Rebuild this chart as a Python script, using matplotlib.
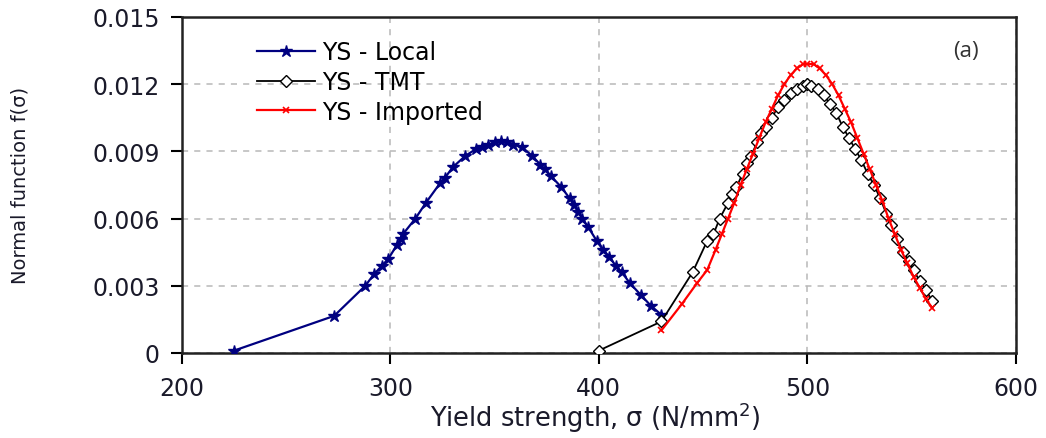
import numpy as np
import matplotlib
matplotlib.use("Agg")
import matplotlib.pyplot as plt

# values
local_x = [225, 273, 288, 292, 296, 299, 303, 305, 306, 312, 317, 324, 326, 330,
           336, 341, 344, 347, 350, 353, 356, 359, 363, 368, 372, 374, 377, 382,
           386, 388, 390, 392, 395, 399, 402, 405, 408, 411, 415, 420, 425, 430]
local_y = [0.0001, 0.00165, 0.0030, 0.0035, 0.0039, 0.0042, 0.0048, 0.0051, 0.0053,
           0.0060, 0.0067, 0.0076, 0.0078, 0.0083, 0.0088, 0.0091, 0.0092, 0.0093,
           0.0094, 0.00945, 0.0094, 0.0093, 0.0092, 0.0088, 0.0084, 0.0082, 0.0079,
           0.0074, 0.0069, 0.0066, 0.0063, 0.0060, 0.0056, 0.0050, 0.0046, 0.0043,
           0.0039, 0.0036, 0.0031, 0.0026, 0.0021, 0.0017]

tmt_x = [400, 430, 445, 452, 455, 458, 462, 464, 466, 469, 471, 473, 476, 478, 480,
         483, 486, 489, 492, 495, 498, 500, 502, 505, 508, 511, 514, 517, 520, 523,
         526, 529, 532, 535, 538, 540, 543, 546, 549, 551, 554, 557, 560]
tmt_y = [0.0001, 0.0014, 0.0036, 0.0050, 0.0053, 0.0060, 0.0067, 0.0071, 0.0074,
         0.0080, 0.0085, 0.0088, 0.0094, 0.0098, 0.0101, 0.0105, 0.0110, 0.0113,
         0.0116, 0.0118, 0.0119, 0.0120, 0.0119, 0.0118, 0.0115, 0.0111, 0.0107,
         0.0101, 0.0096, 0.0091, 0.0086, 0.0080, 0.0075, 0.0069, 0.0062, 0.0057,
         0.0051, 0.0045, 0.0041, 0.0037, 0.0032, 0.0028, 0.0023]

imp_x = [430, 440, 447, 452, 456, 459, 462, 465, 468, 471, 474, 477, 480, 483, 486,
         489, 492, 495, 498, 500, 503, 506, 509, 512, 515, 518, 521, 524, 527, 530,
         533, 536, 539, 542, 545, 548, 551, 554, 557, 560]
imp_y = [0.0010, 0.0022, 0.0031, 0.0037, 0.0046, 0.0053, 0.0060, 0.0067, 0.0075,
         0.0082, 0.0089, 0.0096, 0.0103, 0.0109, 0.0115, 0.0120, 0.0124, 0.0127,
         0.0129, 0.0129, 0.0129, 0.0127, 0.0124, 0.0120, 0.0115, 0.0109, 0.0103,
         0.0096, 0.0089, 0.0082, 0.0075, 0.0068, 0.0060, 0.0053, 0.0046, 0.0040,
         0.0034, 0.0029, 0.0024, 0.0020]

x_ticks = [200, 300, 400, 500, 600]
y_ticks = [0, 0.003, 0.006, 0.009, 0.012, 0.015]
y_tick_labels = ["0", "0.003", "0.006", "0.009", "0.012", "0.015"]

plt.rcParams['font.family'] = ['DejaVu Sans']
fig = plt.figure(figsize=(10.46, 4.39), dpi=100)
ax = fig.add_axes([0.174, 0.194, 0.797, 0.765])

ax.plot(local_x, local_y, color="#000080", lw=1.6, marker="*", ms=9,
        label="YS - Local", zorder=3)
ax.plot(tmt_x, tmt_y, color="black", lw=1.3, marker="D", ms=6, mfc="white",
        mec="black", mew=1.0, label="YS - TMT", zorder=4)
ax.plot(imp_x, imp_y, color="red", lw=1.6, marker="x", ms=5, mew=1.2,
        label="YS - Imported", zorder=5)

ax.set_xlim(200, 600)
ax.set_ylim(0, 0.015)
ax.set_xticks(x_ticks)
ax.set_yticks(y_ticks)
ax.set_yticklabels(y_tick_labels)
ax.tick_params(axis="both", direction="out", length=8, width=1.5,
               labelsize=17, labelcolor="#1a1a2a")
ax.tick_params(axis="y", pad=8)
ax.tick_params(axis="x", pad=9)
ax.grid(True, color="#b8b8b8", linestyle=(0, (4, 4)), lw=1.1)
ax.set_axisbelow(True)
for sp in ax.spines.values():
    sp.set_linewidth(1.8)
    sp.set_color("#222222")

ax.set_xlabel("Yield strength, σ (N/mm$^2$)", fontsize=18.5, color="#1a1a2a")
ax.xaxis.set_label_coords(0.496, -0.138)
ax.set_ylabel("Normal function f(σ)", fontsize=14, color="#1a1a2a")
ax.yaxis.set_label_coords(-0.183, 0.5)

ax.text(0.94, 0.9, "(a)", transform=ax.transAxes, fontsize=16,
        color="#333333", family="Open Sans", ha="center", va="center")

ax.legend(loc="upper left", bbox_to_anchor=(0.065, 0.995), frameon=False,
          fontsize=17, handlelength=2.45, labelspacing=0.25, handletextpad=0.3)

fig.savefig("out.png", dpi=100)
